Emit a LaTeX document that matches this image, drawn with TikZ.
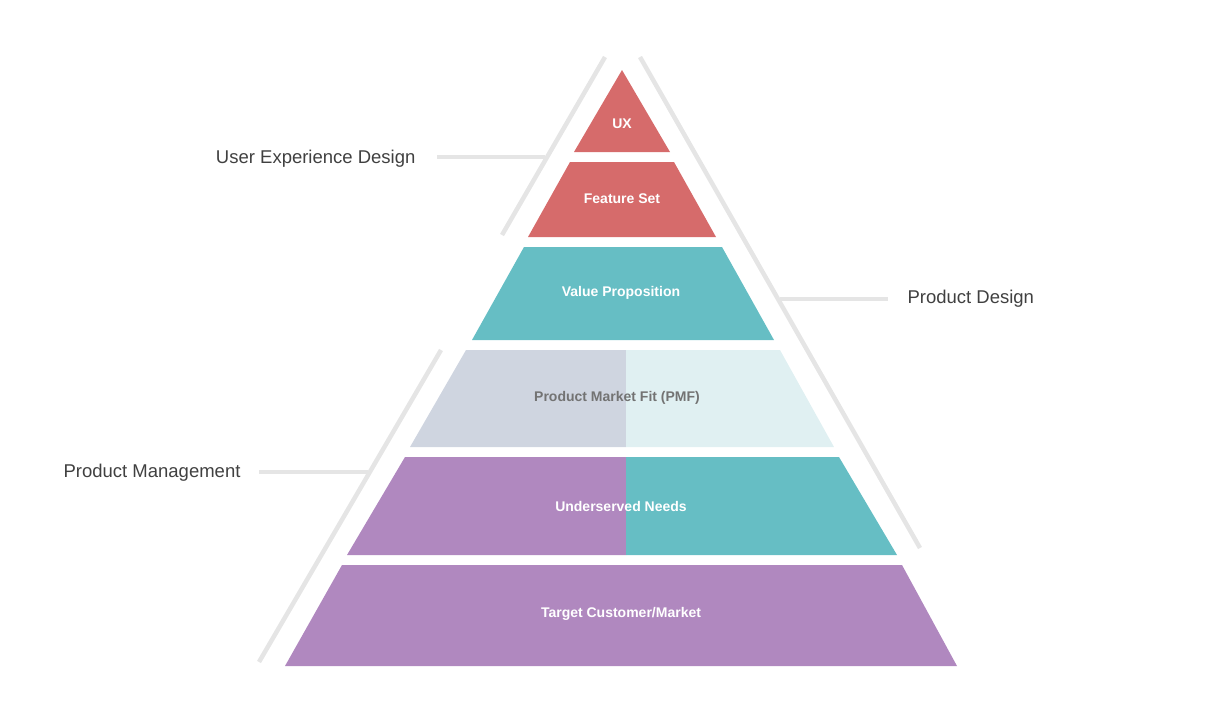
\documentclass[tikz,border=0pt]{standalone}
\usepackage{fontspec}
\setmainfont{Liberation Sans}
\begin{document}
\begin{tikzpicture}[x=1pt,y=-1pt,
  guide/.style={draw=black!10,line width=4.5pt},
  lay/.style={font=\bfseries\fontsize{14}{16}\selectfont,text=white},
  lab/.style={font=\fontsize{18.5}{20}\selectfont,text=black!75}]
\definecolor{red}{HTML}{D66B6B}
\definecolor{teal}{HTML}{66BEC4}
\definecolor{purp}{HTML}{B088BF}
\definecolor{pmfl}{HTML}{CFD5E0}
\definecolor{pmfr}{HTML}{E0F0F2}
\useasboundingbox (0,0) rectangle (1231,726);
% guides
\draw[guide] (605,57) -- (502,235);
\draw[guide] (640,57) -- (920,548);
\draw[guide] (441,350) -- (259,662);
\coordinate (c1a) at (437,157); \coordinate (c1b) at (545,157);
\coordinate (c2a) at (780,299); \coordinate (c2b) at (888,299);
\coordinate (c3a) at (259,472); \coordinate (c3b) at (368,472);
\draw[guide,line width=4pt] (c1a) -- (c1b);
\draw[guide,line width=4pt] (c2a) -- (c2b);
\draw[guide,line width=4pt] (c3a) -- (c3b);
% layers
\fill[red] (622,70) -- (670,152) -- (574,152) -- cycle;
\fill[red] (570,162) -- (674,162) -- (716,237) -- (528,237) -- cycle;
\fill[teal] (524,247) -- (722,247) -- (774,340) -- (472,340) -- cycle;
\fill[pmfl] (466,350) -- (626,350) -- (626,447) -- (410,447) -- cycle;
\fill[pmfr] (626,350) -- (780,350) -- (834,447) -- (626,447) -- cycle;
\fill[purp] (405,457) -- (626,457) -- (626,555) -- (347,555) -- cycle;
\fill[teal] (626,457) -- (839,457) -- (897,555) -- (626,555) -- cycle;
\fill[purp] (342,565) -- (902,565) -- (957,666) -- (285,666) -- cycle;
\node[lay] (ux) at (622,124) {UX};
\node[lay] (fs) at (622,199) {Feature Set};
\node[lay] (vp) at (621,293) {Value Proposition};
\node[lay,text=black!55] (pmf) at (617,398) {Product Market Fit (PMF)};
\node[lay] (un) at (621,506) {Underserved Needs};
\node[lay] (tc) at (621,614) {Target Customer/Market};
\node[lab,anchor=east] (l1) at (c1a) [xshift=-18pt,yshift=-2pt] {User Experience Design};
\node[lab,anchor=west] (l2) at (c2b) [xshift=16pt] {Product Design};
\node[lab,anchor=east] (l3) at (c3a) [xshift=-15pt,yshift=-1pt] {Product Management};
\end{tikzpicture}
\end{document}
